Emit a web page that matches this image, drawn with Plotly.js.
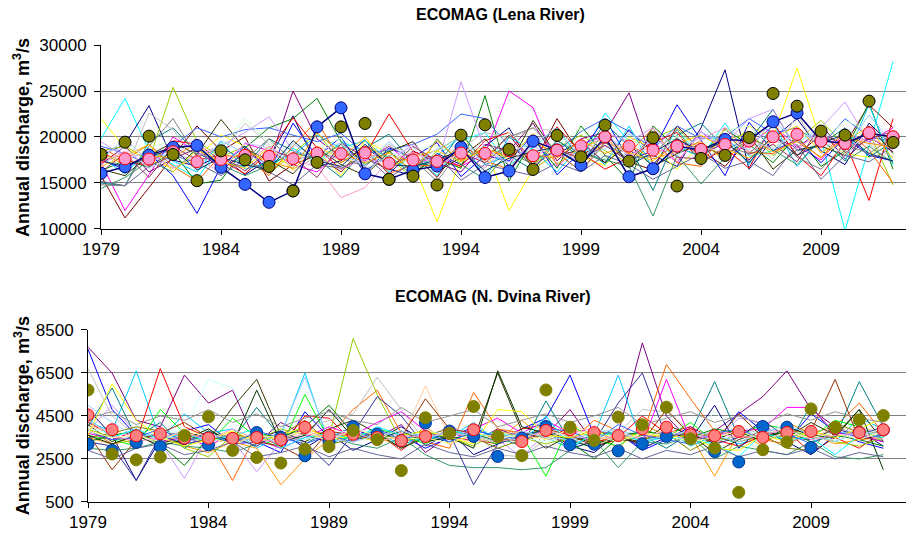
<!DOCTYPE html>
<html><head><meta charset="utf-8">
<script src="https://cdn.plot.ly/plotly-3.0.1.min.js"></script>
<style>html,body{margin:0;padding:0;background:#fff}#chart{width:906px;height:538px}</style>
</head><body><div id="chart"></div>
<script>
const years = [1979,1980,1981,1982,1983,1984,1985,1986,1987,1988,1989,1990,1991,1992,1993,1994,1995,1996,1997,1998,1999,2000,2001,2002,2003,2004,2005,2006,2007,2008,2009,2010,2011,2012];
const xTickYears = [1979,1984,1989,1994,1999,2004,2009];
const lenaTicks = [10000,15000,20000,25000,30000];
const dvinaTicks = [500,2500,4500,6500,8500];

// Lena: highlighted series
const lenaBlue = [16050,16770,18030,18870,19080,16700,14850,12900,14150,21100,23170,16000,15400,16400,16840,18870,15600,16300,19550,18600,16950,20000,15680,16550,19000,18600,19740,19600,21650,22620,19600,19300,20400,20000];
const lenaPink = [17900,17630,17600,18390,17310,17560,18000,17890,17630,18250,18180,18280,17150,17500,17350,18250,18220,18500,17960,18570,19040,20020,19010,18570,19010,18650,19190,19550,20020,20280,19550,19300,20450,20020];
const lenaOlive = [18100,19440,20090,18100,15250,18500,17520,16800,14130,17240,21100,21470,15400,15750,14780,20200,21320,18650,16480,20170,17850,21290,17380,19910,14670,17670,18000,19950,24730,23350,20640,20200,23900,19410];

// Lena: ensemble runs
const lenaRuns = [
[19800,24200,18500,17000,15500,19000,17200,16500,18800,17200,19500,18400,16200,18000,15800,19600,20500,16900,18800,21000,17500,22600,19500,16800,20800,17800,21500,17900,18500,20600,19800,9800,19000,28200],
[18000,19200,23400,17500,16800,18000,15900,17600,22300,16800,17400,19700,16500,15800,18200,17000,19000,21000,16500,18200,19500,17200,20800,18000,16800,21000,27300,16500,19800,22000,18500,17000,21500,19000],
[18500,19000,17500,25400,19500,17800,19000,16000,18200,20500,17200,19000,17800,15500,18500,20100,17500,19200,17000,18800,20200,18500,17200,19800,21000,18200,19600,20500,18000,19600,21800,19000,20500,14800],
[15800,11200,14500,17800,21200,18500,20000,15200,17000,18000,16200,19000,16800,18200,15600,19200,17500,20200,17000,22000,18000,19500,17300,16400,21200,18500,16800,19800,21500,18000,20300,19200,23500,21000],
[17200,12000,15900,20000,18400,16700,19300,18500,17000,16200,18500,17400,19000,16900,18000,16800,18200,25000,23200,16800,19200,20200,18000,19500,17200,20600,18300,19000,21200,19000,17500,20500,19500,21000],
[22000,18800,17500,16600,17800,20200,19000,16800,17800,18500,15800,19600,18200,17200,10800,17600,19000,12000,16500,18200,17800,16900,20000,18800,16500,19200,18000,21200,20000,27500,19500,18200,17800,20500],
[16300,17500,16700,18500,14900,15300,18800,21000,22000,24200,19500,17000,18500,16200,17600,16600,24500,15200,19800,16600,21200,18000,15200,21200,18800,18000,20800,19200,17200,20200,16800,18500,23700,16500],
[17500,16500,18200,15800,11700,16800,19000,16200,21500,17800,20000,16000,18800,17800,19400,15700,18000,17400,20200,15900,18400,22000,17500,18500,23500,19600,15800,21600,18500,19700,17200,20000,18000,17400],
[17000,19000,16200,17600,18800,16400,18300,17000,25000,19800,17800,18500,16000,18500,17200,16200,19200,18500,21500,17400,19800,20500,24800,17000,19800,18000,19400,17500,20000,18800,20800,17600,20000,18400],
[15000,14700,19500,21000,18200,17200,16800,19800,18500,17600,15600,18800,20300,17200,16800,20500,17000,18000,16400,19600,17800,21500,19000,14200,20200,21500,18800,19500,23000,18500,19200,21000,17800,19500],
[19000,18200,17000,19000,21000,20000,20800,21000,20200,19500,20400,18200,18600,19200,20300,22500,22000,19000,17600,18400,20600,22000,20600,18700,21200,19800,20000,22000,20400,21000,19000,22000,20000,19500],
[18600,16200,22600,20800,17200,18300,21500,19200,16500,17800,18600,17300,19200,18000,16600,18800,20500,19800,21000,20600,17500,19000,18200,17700,20000,17400,21000,19500,17600,22500,18200,20800,19200,17800],
[18200,17400,16900,19600,19200,17500,16000,18400,22100,18800,16500,18000,22500,18400,17600,16800,19600,20500,17300,21100,18300,16500,17800,19400,20500,17200,18800,16600,21500,18000,15800,19500,13100,22000],
[17800,16000,18600,17400,16200,19500,16500,17200,18000,20200,18800,19600,17500,16500,18000,20000,15500,20000,18600,16200,19200,17000,21200,16600,19000,17800,20200,17000,21500,16800,19800,17400,23500,17000],
[18800,17500,19200,16800,15200,18000,17800,15800,19000,21800,17200,18800,16000,17000,16800,19300,17400,16500,19500,18200,16300,19500,18200,21000,17200,16800,21000,18300,18200,19800,17700,20800,18600,15000],
[16500,15800,18000,19400,18100,21900,18700,17500,16000,18800,17000,15800,18400,19500,16200,17800,19800,16800,21800,18000,18600,17200,19200,16800,18200,19200,17800,20200,16500,18600,19000,18000,21200,18200],
[19500,17800,18200,16600,18000,19000,20500,22200,18500,17800,16500,17600,17200,19300,16800,26000,18600,17300,19000,17800,18300,20500,19500,21000,18500,20000,19200,22000,23000,18500,21000,23800,19400,18800],
[17000,18500,16800,18000,17600,16200,17200,19000,17400,16800,13400,14500,17500,18300,17000,18200,16600,19500,17800,19200,17000,19800,18000,19000,17500,19800,21000,18400,19600,18800,20400,18800,20000,18600],
[18000,17500,18800,19600,17000,18800,22000,19500,17800,18600,19900,18000,17400,18600,19000,17800,18200,20500,18200,19000,21000,17600,19800,18400,20100,19000,20700,21200,18900,20300,19500,21800,20700,19600],
[15200,14700,16800,18000,17200,15800,17600,16200,14800,17000,16600,18000,15600,17200,18000,15300,17000,16400,15800,17200,16200,18000,17000,15400,16800,18200,16600,17400,15800,19200,15400,18000,17300,19000],
[14400,15600,17400,16200,18800,17000,15800,16900,18300,17600,19200,16400,18000,15800,19800,17000,15400,18400,17000,19600,18200,17500,16800,11400,18000,14900,17800,20000,18600,17000,19800,17400,19000,17200],
[14800,14700,19000,22000,17800,18800,17600,19800,17400,18200,17700,16800,19000,17600,15200,18600,17800,20000,21000,18400,16200,19400,17600,18000,20800,17200,19000,18200,20600,17800,16500,19200,18200,20000],
[16800,17900,19200,16200,18600,17300,16600,18900,16400,19000,17600,20000,16700,17900,18500,17300,18800,17600,20400,17000,18900,19800,18300,17400,19300,20200,18700,17700,19900,21200,18300,19700,21000,17600],
[17600,19800,17300,18400,16500,19600,18200,17000,19300,17500,18200,16900,19500,17000,18700,19900,16900,18300,19400,20800,17900,18700,20300,19200,17900,20500,19500,18600,21800,19400,20900,18700,22400,19200],
[16200,18200,15600,19000,17500,18000,16300,18600,17800,15600,19300,17800,16400,19000,17400,18300,17200,19300,16800,18700,17600,19100,17300,20200,17800,17600,20400,18100,19200,17300,21300,18300,19800,20600],
[18400,16900,18000,17700,19400,16900,18500,17300,16600,20400,18300,17200,18300,16300,19600,17400,18700,17900,18100,17700,19700,18200,19200,17600,18500,19500,17400,20000,18400,19500,17800,19900,19300,18900],
[17400,16800,17800,18800,16400,17800,17000,16400,19600,17400,16800,19200,17000,16800,17500,18600,16300,17700,18400,18900,16900,20800,16900,18300,19800,18400,19600,17200,20200,18000,19300,20300,18200,17400],
[18300,18800,16600,17800,19800,16200,19400,18800,17200,18400,19400,16500,17900,18900,16500,18500,18900,17000,19600,18600,17300,20600,17800,19700,18700,18900,18400,19700,18700,20600,19600,18100,20600,19900]
];

// N. Dvina: highlighted series
const dvinaBlue = [3190,2900,3270,3080,3450,3160,3450,3730,3500,2650,3310,4000,3660,3350,4170,3800,3550,2620,3470,4010,3160,3190,2880,3210,3550,3600,2850,2360,4010,3980,3040,3930,3750,3850];
const dvinaPink = [4550,3860,3580,3670,3470,3470,3460,3500,3390,3970,3600,3650,3500,3350,3550,3700,3860,3550,3310,3830,3860,3730,3590,3900,3980,3630,3580,3780,3500,3730,3780,3930,3730,3860];
const dvinaOlive = [5710,2730,2460,2590,3590,4460,2900,2570,2310,2960,3080,3830,3400,1960,4420,3690,4940,3550,2660,5710,3980,3360,4450,4090,4910,3440,3010,950,2930,3290,4830,3980,4320,4520];

// N. Dvina: ensemble runs
const dvinaRuns = [
[7700,6500,4300,4000,6400,5100,5700,3200,4200,3600,3300,3900,3500,4100,2800,3600,3300,3900,3500,3600,4800,3200,3700,7900,4500,3300,3800,4600,5400,6600,4800,4000,3600,3300],
[7600,4800,3600,3500,3800,4100,3200,3300,2800,4700,3500,4000,3300,3600,3000,3500,4000,3400,3900,4400,6400,3600,3700,2900,3400,4000,3200,4700,3800,3300,4600,3800,3300,3000],
[4200,3800,6600,3400,4600,3700,3900,3000,3600,6500,3200,3600,3800,3100,3700,3500,4200,3300,3700,3500,3000,3600,6400,3200,3900,3100,3600,3200,3500,3900,3700,3300,4400,3900],
[4200,3600,3300,6700,4000,3500,3200,3600,3100,4500,4400,3300,3700,2900,3800,3500,3400,3200,3900,4100,3600,3300,3500,4500,3700,4000,3400,3100,3600,3800,2800,3500,3000,3800],
[4800,3600,1500,3400,3200,3800,3300,3500,3800,3000,3700,2900,3400,4000,3300,3800,2700,3200,3600,3900,3100,2800,3700,3000,3500,3400,5000,3000,4000,3300,2700,3600,3800,3100],
[3500,3200,3400,3700,3100,2800,3300,3000,1300,2500,3400,3700,3500,3100,4000,3200,3600,3300,4300,3400,3900,3700,3000,4100,3600,3600,1700,3700,3100,4200,3700,3200,3400,3500],
[3900,3200,3600,3100,3800,3400,1500,3700,3300,3900,3600,4800,5700,3700,3300,3000,5600,3900,3700,3500,3300,4300,3800,3600,6900,5300,3800,3600,3400,3200,3700,4000,5100,3700],
[4000,5800,3500,4200,3000,3800,3400,4900,3500,3200,3800,3400,3700,3000,3600,3300,3900,3500,3100,5200,3300,3600,3800,3600,3000,3700,6100,3500,4200,3100,5000,3500,6100,4000],
[3600,3400,3100,4800,3700,3200,4400,3500,3000,5500,3400,3500,3900,3600,3200,3800,3500,3200,3600,1700,4100,3400,3100,3900,3500,4200,3300,3600,4100,3900,3500,4300,4000,3300],
[4100,3300,3900,3200,3600,3400,4900,6200,3600,3300,3900,4300,3700,3000,3500,3800,3400,6500,3800,3000,3600,3200,3500,3300,4100,3600,2800,3400,3800,3500,4200,3600,4800,3300],
[3900,3500,3200,3800,3000,2600,3600,3400,3900,3600,3500,8100,5500,3300,3700,3500,3100,3800,3500,3200,3500,3800,3300,3600,3400,3800,3500,3900,3400,3600,3700,3300,3100,3500],
[6700,4500,3600,3200,3800,3300,3600,3100,3700,3900,4300,4600,6300,4800,3300,3600,3800,2700,2600,3400,3500,3000,3700,4800,4700,3800,3300,3600,3900,3700,3400,4000,3600,3800],
[3700,3400,3800,3300,3500,3100,3700,3400,3000,3500,4000,3600,4200,4700,3800,3400,3900,4400,3700,4300,3700,3900,3500,3200,6200,3400,3600,3800,3900,4900,4900,3700,3600,3300],
[3000,2900,3000,3300,3100,3000,2800,3200,3700,3400,3600,3200,3000,3500,2700,2200,2100,2100,2000,2100,2900,3400,2100,3300,3200,3600,2500,3100,2900,2700,3300,2600,2500,2700],
[4000,3800,3500,3700,3400,3900,3300,3600,3400,3800,3500,3300,3700,3400,5900,3500,3300,3600,3800,3500,4100,3700,3600,3400,3900,3500,3800,3600,3700,3900,3600,3800,4000,3700],
[3800,5000,3700,3300,1600,3600,3400,1900,3300,3500,4800,3800,3400,3700,3500,4000,3600,3400,2600,3700,3500,3800,3300,3700,3400,3900,3300,4400,4200,3200,3800,3500,3900,3700],
[3300,3100,1500,3600,3200,3400,3500,3100,3800,3300,2200,3700,5400,4500,3100,3700,1300,3200,3600,3800,3000,3300,5100,6500,3500,3700,3200,3500,4300,3500,3400,3900,3600,4000],
[3500,3700,4000,3800,3500,3300,3700,3400,3600,4300,3200,3400,3800,3300,3600,3900,3500,3000,3400,3600,3500,3800,3600,3400,3700,2900,3500,3300,3600,3000,2900,4200,3700,3800],
[3900,3700,3300,3600,3900,6200,5800,3700,3500,3400,3600,3900,3700,3500,3800,3600,3400,3700,3500,3300,3600,3900,3700,3800,3500,3400,4700,3600,3800,3700,3500,3400,3600,3900],
[3700,2000,3400,3700,4200,3500,3600,3300,3100,2500,3800,3600,3400,3500,5300,3900,3700,3500,3300,3900,3600,3100,3400,3300,4800,3600,3300,4600,3500,3800,3800,6200,3400,3600],
[3300,3600,3800,3200,2200,3500,3300,3700,3500,4000,5000,3700,3400,3600,3800,3400,3700,3300,3500,3900,3300,2500,3500,3800,3600,3500,3900,3700,3500,3800,3300,3600,3400,3100],
[3600,3200,3600,3100,3400,3900,3200,5700,3300,3600,4800,3500,3400,3800,3300,3500,3000,6600,4000,3700,3400,3000,3500,3200,3700,3500,3400,3800,3300,4000,3600,3500,4800,2000],
[4400,3500,3900,3400,3700,3300,3600,3900,3000,3500,3700,3400,4000,3600,3300,3900,3500,3800,3200,4500,3100,3600,3700,3300,3500,3400,3200,2600,3700,3400,3500,2700,3600,3500],
[3600,6000,4300,3500,3100,3400,3800,3300,3600,4000,3400,3600,3300,3600,3800,3500,3200,4800,4700,3600,3500,3800,3400,3700,3500,3600,3000,2900,3600,3300,3800,3500,3900,4400],
[3800,3400,3500,3900,3300,3700,3200,3800,3500,3200,3600,3300,3900,3400,3700,3300,3800,3600,3400,3900,3800,3300,4100,3600,3400,3200,3700,3900,3400,3700,3200,3800,3500,3600],
[4300,3600,3300,3500,3700,3400,3900,3400,3300,3700,3500,3800,3300,3600,3500,3800,3400,3300,3500,3800,3600,3400,3600,3500,3800,3300,3700,3500,3600,3900,3400,3600,3700,3400],
[2900,2500,3000,3200,2700,2900,3300,2600,2800,3100,2600,3000,2700,2500,3200,2800,2600,3000,2700,3100,2800,2600,3000,2500,2900,2700,3100,2600,2900,2700,3000,2500,2800,2600],
[5000,4200,3500,3700,3300,3500,3600,3300,3700,6300,3400,3300,3600,3800,3500,3700,3600,3300,3800,3500,3400,3700,3900,3300,3600,3800,3600,3300,3700,4100,3600,3300,3800,3600],
[4400,4700,4100,4500,4300,4800,4200,4600,4000,4400,4700,4300,4100,4900,4200,4500,4800,4000,4300,4600,4200,4500,4900,4100,4400,4700,4200,4500,4100,4600,4300,4700,4400,4200],
[3800,3500,3600,3300,3900,3500,3200,3600,3500,3800,3300,3900,3600,3400,3500,3200,3700,3500,3600,3400,3900,3600,3300,3700,3600,3300,3500,3800,3400,3700,3500,3700,3400,3800]
];

// styles
const lenaColors = ['#00FFFF','#000080','#99CC00','#800000','#FF00FF','#FFFF00','#008000','#0000FF','#800080','#008080','#3366FF','#C0C0C0','#FF0000','#00CCFF','#FF6600','#333300','#CC99FF','#FF99CC','#CCFFCC','#666699','#339966','#808080','#FFCC00','#99CCFF','#993366','#FF9900','#003366','#CCCCFF'];
const dvinaColors = ['#800080','#0000FF','#00CCFF','#FF0000','#000080','#FF9900','#FF6600','#008080','#00FF00','#333300','#99CC00','#C0C0C0','#FF00FF','#339966','#FFCC99','#CC99FF','#333399','#808000','#CCFFFF','#993300','#008000','#003300','#00FFFF','#FFFF00','#3366FF','#FF99CC','#666699','#99CCFF','#969696','#FFFF99'];

const FONT = 'Arial, "Liberation Sans", sans-serif';
const traces = [];
lenaRuns.forEach((r, i) => traces.push({x: years, y: r, type: 'scatter', mode: 'lines', line: {color: lenaColors[i % lenaColors.length], width: 1}, xaxis: 'x', yaxis: 'y', hoverinfo: 'skip'}));
traces.push({x: years, y: lenaBlue, type: 'scatter', mode: 'lines+markers', line: {color: '#000080', width: 1.5}, marker: {size: 12, color: '#3366FF', line: {color: '#000080', width: 1}}, xaxis: 'x', yaxis: 'y'});
traces.push({x: years, y: lenaPink, type: 'scatter', mode: 'markers', marker: {size: 12, color: '#FF99CC', line: {color: '#FF0000', width: 1}}, xaxis: 'x', yaxis: 'y'});
traces.push({x: years, y: lenaOlive, type: 'scatter', mode: 'markers', marker: {size: 12, color: '#808000', line: {color: '#000000', width: 1}}, xaxis: 'x', yaxis: 'y'});

dvinaRuns.forEach((r, i) => traces.push({x: years, y: r, type: 'scatter', mode: 'lines', line: {color: dvinaColors[i % dvinaColors.length], width: 1}, xaxis: 'x2', yaxis: 'y2', hoverinfo: 'skip'}));
traces.push({x: years, y: dvinaBlue, type: 'scatter', mode: 'markers', marker: {size: 12, color: '#0066CC', line: {color: '#003399', width: 1}}, xaxis: 'x2', yaxis: 'y2'});
traces.push({x: years, y: dvinaPink, type: 'scatter', mode: 'markers', marker: {size: 12, color: '#FF8080', line: {color: '#FF0000', width: 1}}, xaxis: 'x2', yaxis: 'y2'});
traces.push({x: years, y: dvinaOlive, type: 'scatter', mode: 'markers', marker: {size: 12, color: '#808000', line: {color: '#808000', width: 1}}, xaxis: 'x2', yaxis: 'y2'});

const xCommon = {tickvals: xTickYears, tickformat: 'd', ticks: 'outside', ticklen: 5, tickcolor: '#000', showline: true, linecolor: '#000', linewidth: 1, showgrid: false, zeroline: false, tickfont: {family: FONT, size: 17, color: '#000'}};
const yCommon = {tickformat: 'd', ticks: 'outside', ticklen: 6, tickcolor: '#000', ticklabelstandoff: 4, showline: true, linecolor: '#000', linewidth: 1, showgrid: true, gridcolor: '#808080', gridwidth: 1, zeroline: false, tickfont: {family: FONT, size: 17, color: '#000'}};

const layout = {
  width: 906, height: 538,
  margin: {l: 88, r: 0, t: 45, b: 36},
  paper_bgcolor: '#fff', plot_bgcolor: '#fff',
  showlegend: false,
  xaxis: Object.assign({}, xCommon, {domain: [0.0159, 1], range: [1979, 2012.54], anchor: 'y'}),
  yaxis: Object.assign({}, yCommon, {domain: [0.5974, 1], range: [10000, 30000], tickvals: lenaTicks, anchor: 'x'}),
  xaxis2: Object.assign({}, xCommon, {domain: [0, 1], range: [1979, 2012.94], anchor: 'y2'}),
  yaxis2: Object.assign({}, yCommon, {domain: [0, 0.3764], range: [500, 8500], tickvals: dvinaTicks, anchor: 'x2'}),
  annotations: [
    {text: '<b>ECOMAG (Lena River)</b>', xref: 'paper', yref: 'paper', x: 0.5037, y: 1.0678, xanchor: 'center', yanchor: 'middle', showarrow: false, font: {family: FONT, size: 16, color: '#000'}},
    {text: '<b>ECOMAG (N. Dvina River)</b>', xref: 'paper', yref: 'paper', x: 0.495, y: 0.4486, xanchor: 'center', yanchor: 'middle', showarrow: false, font: {family: FONT, size: 16, color: '#000'}},
    {text: '<b>Annual discharge, m<sup>3</sup>/s</b>', xref: 'paper', yref: 'paper', x: -0.0807, y: 0.7987, xanchor: 'center', yanchor: 'middle', textangle: -90, showarrow: false, font: {family: FONT, size: 18, color: '#000'}},
    {text: '<b>Annual discharge, m<sup>3</sup>/s</b>', xref: 'paper', yref: 'paper', x: -0.0807, y: 0.19, xanchor: 'center', yanchor: 'middle', textangle: -90, showarrow: false, font: {family: FONT, size: 18, color: '#000'}}
  ]
};

Plotly.newPlot('chart', traces, layout, {staticPlot: true, displayModeBar: false});
</script>
</body></html>
